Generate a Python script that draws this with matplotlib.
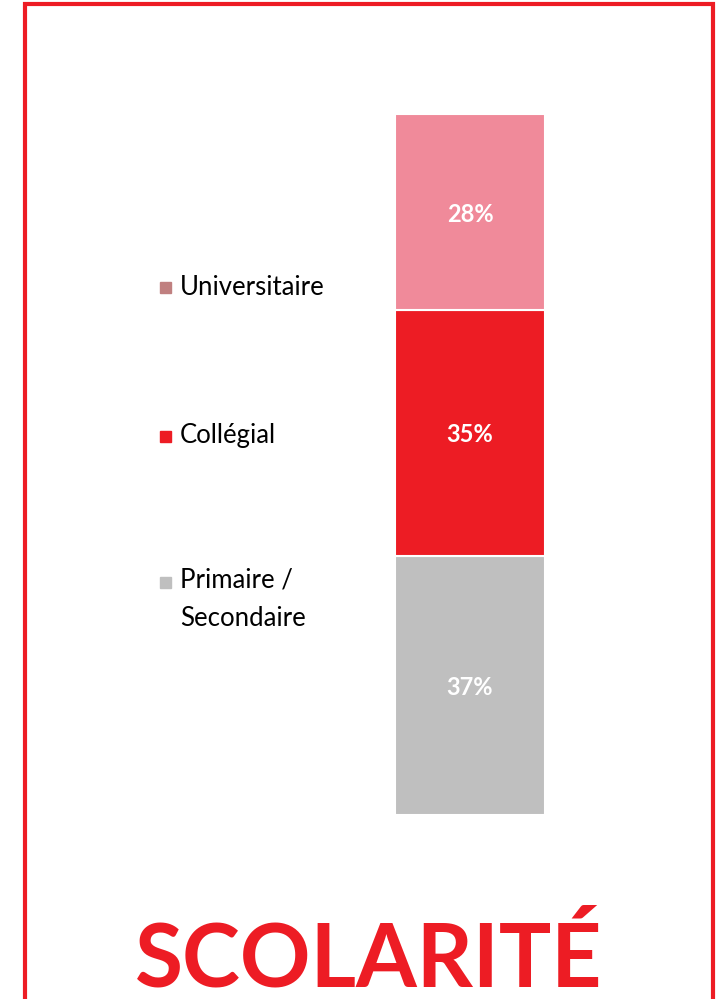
import matplotlib.pyplot as plt
from matplotlib.patches import Rectangle

# data, bottom to top
categories = ['Primaire /\nSecondaire', 'Collégial', 'Universitaire']
values = [37, 35, 28]
bar_colors = ['#BFBFBF', '#ED1C24', '#F08A9A']
legend_colors = ['#BFBFBF', '#ED1C24', '#C08080']
title = 'SCOLARITÉ'

W, H = 723, 999
fig = plt.figure(figsize=(W / 100, H / 100), dpi=100)
plt.rcParams['font.family'] = ['Lato', 'DejaVu Sans']

# red frame (open at the bottom)
frame = Rectangle((25 / W, -0.02), (713 - 25) / W, 1.02 - 4 / H,
                  transform=fig.transFigure, fill=False,
                  edgecolor='#ED1C24', linewidth=3)
fig.patches.append(frame)

ax = fig.add_axes([395 / W, (H - 815) / H, 150 / W, 701 / H])
bottom = 0
for cat, v, c in zip(categories, values, bar_colors):
    ax.bar(0, v, width=1, bottom=bottom, color=c, edgecolor='white', linewidth=1.5)
    ax.text(0, bottom + v / 2, f'{v}%', ha='center', va='center_baseline',
            color='white', fontsize=17, fontweight='bold')
    bottom += v
ax.set_xlim(-0.5, 0.5)
ax.set_ylim(0, sum(values))
ax.axis('off')

# legend, placed beside each segment
legend_y = [599, 436, 287]
for cat, c, y in zip(categories, legend_colors, legend_y):
    fy = 1 - y / H
    first_line_y = fy + (17 / H if '\n' in cat else 0)
    fig.patches.append(Rectangle((160 / W, first_line_y - 6 / H), 11 / W, 11 / H,
                                 transform=fig.transFigure, color=c))
    fig.text(180 / W, fy, cat, ha='left', va='center', fontsize=18.5,
             color='black', linespacing=1.65)

fig.text(369 / W, 1 - 960 / H, title, ha='center', va='center',
         fontsize=63, fontweight='bold', color='#ED1C24')

fig.savefig('out.png', dpi=100)
